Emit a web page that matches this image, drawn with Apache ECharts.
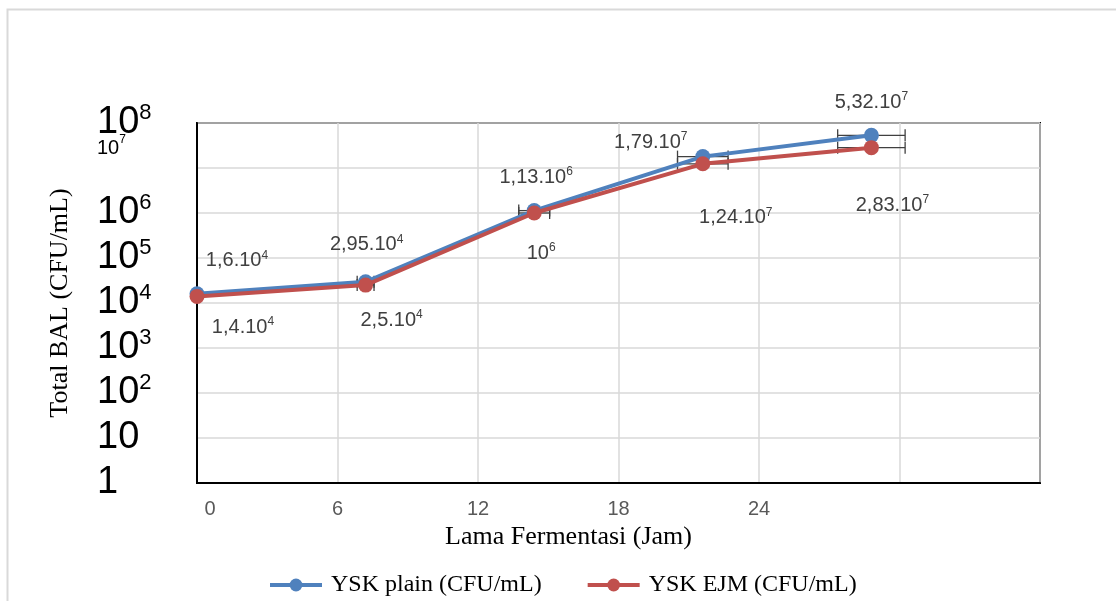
<!DOCTYPE html>
<html>
<head>
<meta charset="utf-8">
<script src="https://cdn.jsdelivr.net/npm/echarts@6/dist/echarts.min.js"></script>
<style>
html,body{margin:0;padding:0;background:#fff;}
#chart{width:1116px;height:601px;}
</style>
</head>
<body>
<div id="chart"></div>
<script>
// ---- data ----
const hours = [0, 6, 12, 18, 24];
const plainValues = [1.6e4, 2.95e4, 1.13e6, 1.79e7, 5.32e7];
const ejmValues = [1.4e4, 2.5e4, 1.0e6, 1.24e7, 2.83e7];
const plainErr = [0, 0.3, 0.55, 0.9, 1.2];
const ejmErr = [0, 0.3, 0.55, 0.9, 1.2];
const plainLabels = [["1,6.10", "4"], ["2,95.10", "4"], ["1,13.10", "6"], ["1,79.10", "7"], ["5,32.10", "7"]];
const ejmLabels = [["1,4.10", "4"], ["2,5.10", "4"], ["10", "6"], ["1,24.10", "7"], ["2,83.10", "7"]];
const xTickLabels = ["0", "6", "12", "18", "24", "", ""];
const yTickLabels = [["1", ""], ["10", ""], ["10", "2"], ["10", "3"], ["10", "4"], ["10", "5"], ["10", "6"], ["10", "7"], ["10", "8"]];
const smallTickIndex = 7; // the 10^7 tick label is drawn small in the reference
const seriesNames = ["YSK plain (CFU/mL)", "YSK EJM (CFU/mL)"];

// ---- label placement (style only) ----
const plainLabelOffset = [[40, -33], [1, -37], [2, -33], [-52, -14], [0, -33]];
const ejmLabelOffset = [[46, 31], [26, 35], [7, 40], [33, 54], [21, 58]];

const BLUE = '#4F81BD', RED = '#C0504D';

function pointData(values, offsets) {
  return hours.map((h, i) => ({
    value: [h, values[i]],
    label: { offset: offsets[i] }
  }));
}
function labelRich() {
  return {
    m: { fontSize: 20, lineHeight: 23, color: '#404040', fontFamily: 'Liberation Sans' },
    s: { fontSize: 12, lineHeight: 12, verticalAlign: 'top', color: '#404040', fontFamily: 'Liberation Sans' }
  };
}
function errData(values, errs) {
  return hours.map((h, i) => [h, values[i], errs[i]]);
}
function renderErr(params, api) {
  const x = api.value(0), y = api.value(1), e = api.value(2);
  if (!e) return null;
  const p1 = api.coord([x - e, y]);
  const p2 = api.coord([x + e, y]);
  const st = { stroke: '#404040', lineWidth: 1.3 };
  const ch = 6;
  return {
    type: 'group',
    children: [
      { type: 'line', shape: { x1: p1[0], y1: p1[1], x2: p2[0], y2: p2[1] }, style: st },
      { type: 'line', shape: { x1: p1[0], y1: p1[1] - ch, x2: p1[0], y2: p1[1] + ch }, style: st },
      { type: 'line', shape: { x1: p2[0], y1: p2[1] - ch, x2: p2[0], y2: p2[1] + ch }, style: st }
    ]
  };
}
function tickIndex(v) { return Math.round(Math.log10(v)); }

const chart = echarts.init(document.getElementById('chart'));
chart.setOption({
  backgroundColor: '#fff',
  animation: false,
  graphic: [{
    type: 'rect', z: -10,
    shape: { x: 7.5, y: 9.5, width: 1300, height: 800 },
    style: { fill: 'none', stroke: '#d9d9d9', lineWidth: 2 }
  }],
  grid: {
    left: 197, right: 76, top: 123, bottom: 118,
    show: true, borderColor: '#000', borderWidth: 2,
    outerBoundsMode: 'none'
  },
  legend: {
    left: 263, top: 568,
    itemWidth: 52, itemHeight: 16, itemGap: 44,
    data: seriesNames,
    lineStyle: { width: 4 },
    textStyle: { fontFamily: 'Liberation Serif', fontSize: 24, color: '#000', padding: [0, 0, 0, 4] }
  },
  xAxis: {
    type: 'value', min: 0, max: 30, interval: 5,
    name: 'Lama Fermentasi (Jam)', nameLocation: 'middle', nameGap: 38,
    nameTextStyle: { fontFamily: 'Liberation Serif', fontSize: 26, color: '#000', padding: [0, 100, 0, 0] },
    axisLine: { show: true, lineStyle: { color: '#000', width: 2 } },
    axisTick: { show: false },
    splitLine: { show: true, lineStyle: { color: '#d9d9d9', width: 1.5 } },
    axisLabel: {
      margin: 16,
      formatter: function (v) {
        const i = Math.round(v / 5);
        const t = xTickLabels[i] || '';
        if (t === '') return '';
        return i === 0 ? '{f|' + t + '}' : '{n|' + t + '}';
      },
      rich: {
        n: { fontSize: 20, color: '#595959', fontFamily: 'Liberation Sans' },
        f: { fontSize: 20, color: '#595959', fontFamily: 'Liberation Sans', padding: [0, 0, 0, 26] }
      }
    }
  },
  yAxis: [{
    type: 'log', logBase: 10, min: 1, max: 1e8,
    name: 'Total BAL (CFU/mL)', nameLocation: 'middle', nameGap: 124,
    nameTextStyle: { fontFamily: 'Liberation Serif', fontSize: 26, color: '#000' },
    axisLine: { show: true, lineStyle: { color: '#000', width: 2 } },
    axisTick: { show: false },
    splitLine: { show: true, lineStyle: { color: '#d9d9d9', width: 1.5 } },
    axisLabel: {
      align: 'left', margin: 100,
      showMinLabel: true, showMaxLabel: true, hideOverlap: false,
      formatter: function (v) {
        const i = tickIndex(v);
        const t = yTickLabels[i];
        if (!t || i === smallTickIndex) return '';
        return '{a|' + t[0] + '}' + (t[1] ? '{b|' + t[1] + '}' : '');
      },
      rich: {
        a: { fontSize: 38, lineHeight: 42, color: '#000', fontFamily: 'Liberation Sans' },
        b: { fontSize: 22, lineHeight: 21, verticalAlign: 'top', color: '#000', fontFamily: 'Liberation Sans' }
      }
    }
  }, {
    type: 'log', logBase: 10, min: 1, max: 1e8, position: 'left', offset: 0,
    axisLine: { show: false }, axisTick: { show: false }, splitLine: { show: false },
    axisLabel: {
      align: 'left', margin: 100,
      showMinLabel: false, showMaxLabel: false, hideOverlap: false,
      formatter: function (v) {
        const i = tickIndex(v);
        const t = yTickLabels[i];
        if (!t || i !== smallTickIndex) return '';
        return '{c|' + t[0] + '}{d|' + t[1] + '}';
      },
      rich: {
        c: { fontSize: 20, lineHeight: 22, color: '#000', fontFamily: 'Liberation Sans', padding: [0, 0, 40, 0] },
        d: { fontSize: 12, lineHeight: 12, color: '#000', fontFamily: 'Liberation Sans', padding: [0, 0, 56, 0] }
      }
    }
  }],
  series: [
    {
      type: 'custom', name: 'errPlain', z: 1, silent: true,
      renderItem: renderErr, encode: { x: 0, y: 1 },
      data: errData(plainValues, plainErr)
    },
    {
      type: 'custom', name: 'errEjm', z: 1, silent: true,
      renderItem: renderErr, encode: { x: 0, y: 1 },
      data: errData(ejmValues, ejmErr)
    },
    {
      type: 'line', name: seriesNames[0], z: 3,
      color: BLUE,
      symbol: 'circle', symbolSize: 15,
      lineStyle: { width: 4, color: BLUE },
      itemStyle: { color: BLUE },
      data: pointData(plainValues, plainLabelOffset),
      label: {
        show: true, position: 'inside',
        formatter: p => '{m|' + plainLabels[p.dataIndex][0] + '}{s|' + plainLabels[p.dataIndex][1] + '}',
        rich: labelRich()
      }
    },
    {
      type: 'line', name: seriesNames[1], z: 4,
      color: RED,
      symbol: 'circle', symbolSize: 15,
      lineStyle: { width: 4, color: RED },
      itemStyle: { color: RED },
      data: pointData(ejmValues, ejmLabelOffset),
      label: {
        show: true, position: 'inside',
        formatter: p => '{m|' + ejmLabels[p.dataIndex][0] + '}{s|' + ejmLabels[p.dataIndex][1] + '}',
        rich: labelRich()
      }
    }
  ]
});
</script>
</body>
</html>
